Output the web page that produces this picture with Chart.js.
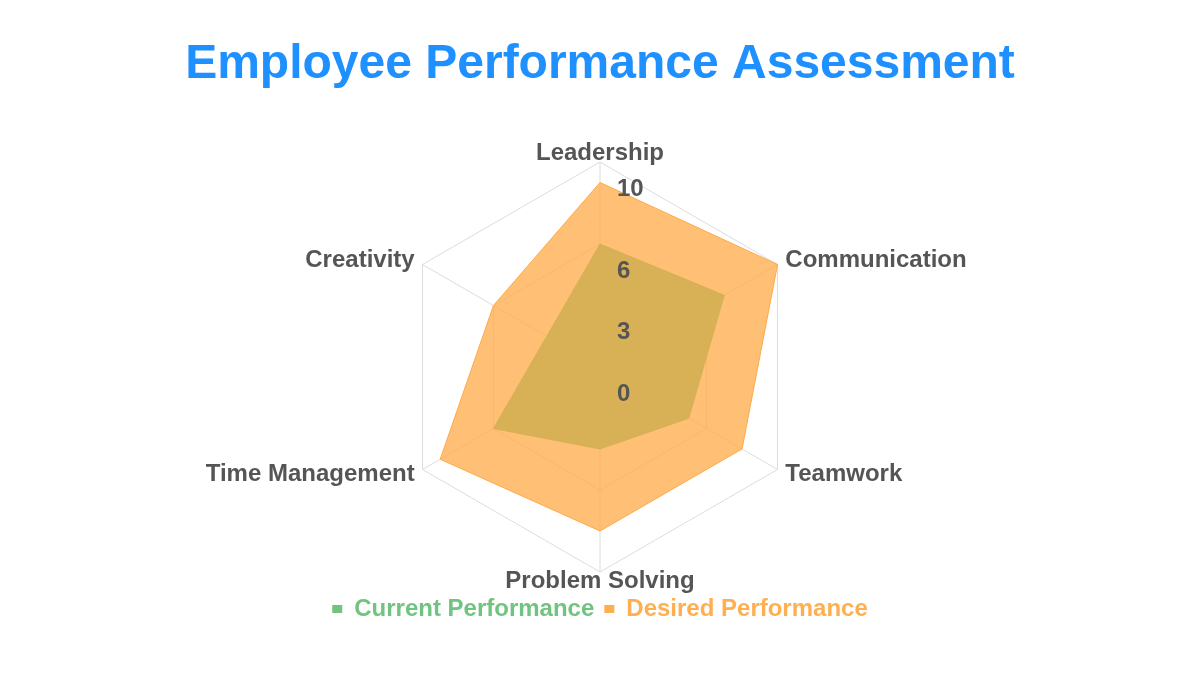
<!DOCTYPE html>
<html>
<head>
<meta charset="utf-8">
<script src="https://cdn.jsdelivr.net/npm/chart.js@4.4.1/dist/chart.umd.min.js"></script>
<style>
  html, body { margin: 0; padding: 0; background: #ffffff; }
  #wrap { width: 1200px; height: 675px; position: relative; }
</style>
</head>
<body>
<div id="wrap"><canvas id="radarChart"></canvas></div>
<script>
// 데이터
const categories = ['Leadership', 'Communication', 'Teamwork', 'Problem Solving', 'Time Management', 'Creativity'];
const currentValues = [6, 7, 5, 4, 6, 3];
const desiredValues = [9, 10, 8, 8, 9, 6];
const tickValues = [0, 3, 6, 10];
const seriesNames = ['Current Performance', 'Desired Performance'];

const FONT = 'Arial, "Liberation Sans", Helvetica, sans-serif';
const LABEL_COLOR = '#555555';
const legendColors = ['#70C47F', '#FFAE50'];

Chart.defaults.font.family = FONT;

// 축 라벨과 눈금 라벨 직접 그리기
const radarLabels = {
    id: 'radarLabels',
    afterDraw(chart) {
        const scale = chart.scales.r;
        const ctx = chart.ctx;
        ctx.save();
        ctx.font = 'bold 24px ' + FONT;
        ctx.fillStyle = LABEL_COLOR;
        ctx.textBaseline = 'middle';

        categories.forEach((label, i) => {
            const p = scale.getPointPosition(i, scale.drawingArea + 9);
            const dx = p.x - scale.xCenter;
            ctx.textAlign = Math.abs(dx) < 1 ? 'center' : (dx > 0 ? 'left' : 'right');
            ctx.fillText(label, p.x, p.y);
        });

        ctx.textAlign = 'left';
        tickValues.forEach(v => {
            const d = scale.getDistanceFromCenterForValue(v);
            ctx.fillText(String(v), scale.xCenter + 17, scale.yCenter - d + 27);
        });
        ctx.restore();
    }
};

const ctx = document.getElementById('radarChart').getContext('2d');
new Chart(ctx, {
    type: 'radar',
    data: {
        labels: categories,
        datasets: [{
            label: seriesNames[0],
            data: currentValues,
            backgroundColor: 'rgba(60, 180, 95, 0.9)',
            borderColor: 'rgba(60, 180, 95, 0.9)',
            borderWidth: 1,
            pointRadius: 0,
            fill: true,
            order: 2
        }, {
            label: seriesNames[1],
            data: desiredValues,
            backgroundColor: 'rgba(255, 174, 80, 0.78)',
            borderColor: 'rgba(255, 168, 70, 1)',
            borderWidth: 1,
            pointRadius: 0,
            fill: true,
            order: 1
        }]
    },
    options: {
        responsive: true,
        maintainAspectRatio: false,
        animation: false,
        layout: { padding: { top: 0, bottom: 44, left: 0, right: 0 } },
        scales: {
            r: {
                min: 0,
                max: 10,
                afterBuildTicks: (scale) => {
                    scale.ticks = tickValues.map(v => ({ value: v }));
                },
                ticks: { display: false },
                pointLabels: { display: false },
                grid: { color: '#dcdcdc', lineWidth: 1 },
                angleLines: { color: '#dcdcdc', lineWidth: 1 }
            }
        },
        plugins: {
            title: {
                display: true,
                text: 'Employee Performance Assessment',
                color: '#1E90FF',
                font: { size: 48, weight: 'bold' },
                padding: { top: 36, bottom: 68.4 }
            },
            legend: {
                position: 'bottom',
                title: { display: true, text: '', font: { size: 10 }, padding: { top: 3, bottom: 0 } },
                labels: {
                    boxWidth: 10,
                    boxHeight: 8,
                    padding: 10,
                    font: { size: 24, weight: 'bold' },
                    generateLabels: (chart) => chart.data.datasets.map((ds, i) => ({
                        text: ds.label,
                        fillStyle: legendColors[i],
                        strokeStyle: legendColors[i],
                        lineWidth: 0,
                        fontColor: legendColors[i],
                        hidden: !chart.isDatasetVisible(i),
                        datasetIndex: i
                    }))
                }
            },
            tooltip: { enabled: false }
        }
    },
    plugins: [radarLabels]
});
</script>
</body>
</html>
